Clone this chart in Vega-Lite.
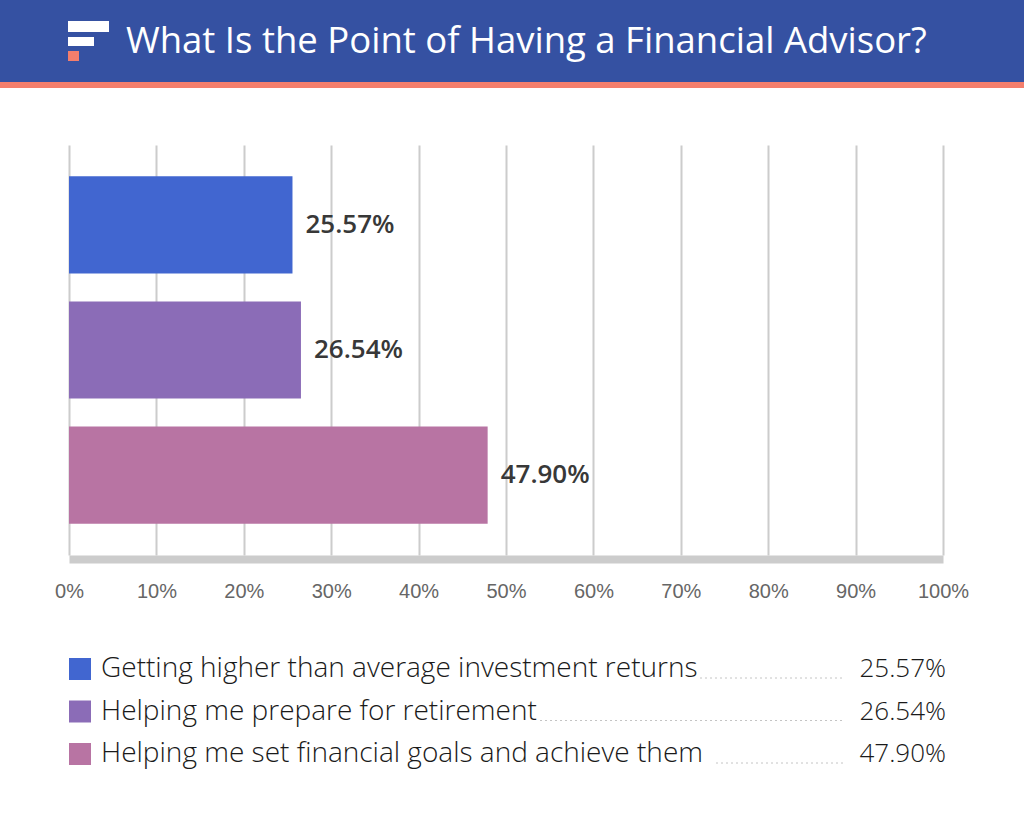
{
  "$schema": "https://vega.github.io/schema/vega-lite/v6.json",
  "background": "white",
  "padding": 0,
  "bounds": "flush",
  "spacing": 57,
  "config": {"view": {"stroke": null}},
  "datasets": {
    "answers": [
      {"label": "Getting higher than average investment returns", "value": 0.2557},
      {"label": "Helping me prepare for retirement", "value": 0.2654},
      {"label": "Helping me set financial goals and achieve them", "value": 0.4790}
    ]
  },
  "vconcat": [
    {
      "width": 1024,
      "height": 88,
      "view": {"fill": "#3551A2", "stroke": null},
      "layer": [
        {
          "data": {"values": [{}]},
          "mark": {"type": "rect", "color": "#F47E6C"},
          "encoding": {"x": {"value": 0}, "x2": {"value": 1024}, "y": {"value": 82}, "y2": {"value": 88}}
        },
        {
          "data": {"values": [{}]},
          "mark": {"type": "rect", "color": "white"},
          "encoding": {"x": {"value": 68}, "x2": {"value": 109}, "y": {"value": 21}, "y2": {"value": 32}}
        },
        {
          "data": {"values": [{}]},
          "mark": {"type": "rect", "color": "white"},
          "encoding": {"x": {"value": 68}, "x2": {"value": 94}, "y": {"value": 37}, "y2": {"value": 46}}
        },
        {
          "data": {"values": [{}]},
          "mark": {"type": "rect", "color": "#F47E6C"},
          "encoding": {"x": {"value": 68}, "x2": {"value": 79}, "y": {"value": 51}, "y2": {"value": 61}}
        },
        {
          "data": {"values": [{"title": "What Is the Point of Having a Financial Advisor?"}]},
          "mark": {"type": "text", "color": "white", "font": "Open Sans", "fontSize": 36.5, "fontWeight": 500, "align": "left", "baseline": "alphabetic"},
          "encoding": {"x": {"value": 126}, "y": {"value": 53}, "text": {"field": "title"}}
        }
      ]
    },
    {
      "width": 1024,
      "height": 410,
      "data": {"name": "answers"},
      "encoding": {
        "y": {"field": "label", "type": "nominal", "sort": null, "axis": null,
              "scale": {"paddingInner": 0.224, "paddingOuter": 0.25}},
        "x": {"field": "value", "type": "quantitative",
              "scale": {"domain": [0, 1], "nice": false, "range": [69, 943]},
              "axis": {"title": null, "values": [0, 0.1, 0.2, 0.3, 0.4, 0.5, 0.6, 0.7, 0.8, 0.9, 1],
                       "format": ".0%", "grid": true, "gridColor": "#cccccc", "gridWidth": 2,
                       "ticks": false, "domainColor": "#cccccc", "domainWidth": 8, "offset": 4,
                       "labelFont": "Liberation Sans", "labelFontSize": 20, "labelColor": "#666666",
                       "labelPadding": 22, "labelFlush": false}}
      },
      "layer": [
        {
          "mark": {"type": "bar"},
          "encoding": {
            "color": {"field": "label", "type": "nominal", "legend": null,
                      "scale": {"domain": ["Getting higher than average investment returns", "Helping me prepare for retirement", "Helping me set financial goals and achieve them"],
                                "range": ["#4166D0", "#8B6CB7", "#B874A3"]}}
          }
        },
        {
          "mark": {"type": "text", "align": "left", "baseline": "middle", "dx": 13, "font": "Open Sans", "fontSize": 26, "fontWeight": 600, "color": "#383838"},
          "encoding": {"text": {"field": "value", "format": ".2%"}}
        }
      ]
    },
    {
      "width": 1024,
      "height": 195,
      "data": {"name": "answers"},
      "encoding": {
        "y": {"field": "label", "type": "nominal", "sort": null, "axis": null,
              "scale": {"type": "point", "range": [57, 142], "padding": 0}}
      },
      "layer": [
        {
          "transform": [{"filter": "datum.label === 'Getting higher than average investment returns'"}],
          "mark": {"type": "rule", "strokeDash": [2, 3], "color": "#c4c4c4", "strokeWidth": 1, "yOffset": 9},
          "encoding": {"x": {"value": 700}, "x2": {"value": 845}}
        },
        {
          "transform": [{"filter": "datum.label === 'Helping me prepare for retirement'"}],
          "mark": {"type": "rule", "strokeDash": [2, 3], "color": "#c4c4c4", "strokeWidth": 1, "yOffset": 9},
          "encoding": {"x": {"value": 540}, "x2": {"value": 845}}
        },
        {
          "transform": [{"filter": "datum.label === 'Helping me set financial goals and achieve them'"}],
          "mark": {"type": "rule", "strokeDash": [2, 3], "color": "#c4c4c4", "strokeWidth": 1, "yOffset": 9},
          "encoding": {"x": {"value": 716}, "x2": {"value": 845}}
        },
        {
          "mark": {"type": "square", "size": 484, "opacity": 1},
          "encoding": {
            "x": {"value": 80},
            "color": {"field": "label", "type": "nominal", "legend": null,
                      "scale": {"domain": ["Getting higher than average investment returns", "Helping me prepare for retirement", "Helping me set financial goals and achieve them"],
                                "range": ["#4166D0", "#8B6CB7", "#B874A3"]}}
          }
        },
        {
          "mark": {"type": "text", "align": "left", "baseline": "middle", "font": "Open Sans", "fontSize": 28, "fontWeight": 300, "color": "#1a1a1a"},
          "encoding": {"x": {"value": 101}, "text": {"field": "label"}}
        },
        {
          "mark": {"type": "text", "align": "right", "baseline": "middle", "font": "Open Sans", "fontSize": 26, "fontWeight": 300, "color": "#1a1a1a"},
          "encoding": {"x": {"value": 946}, "text": {"field": "value", "format": ".2%"}}
        }
      ]
    }
  ]
}
